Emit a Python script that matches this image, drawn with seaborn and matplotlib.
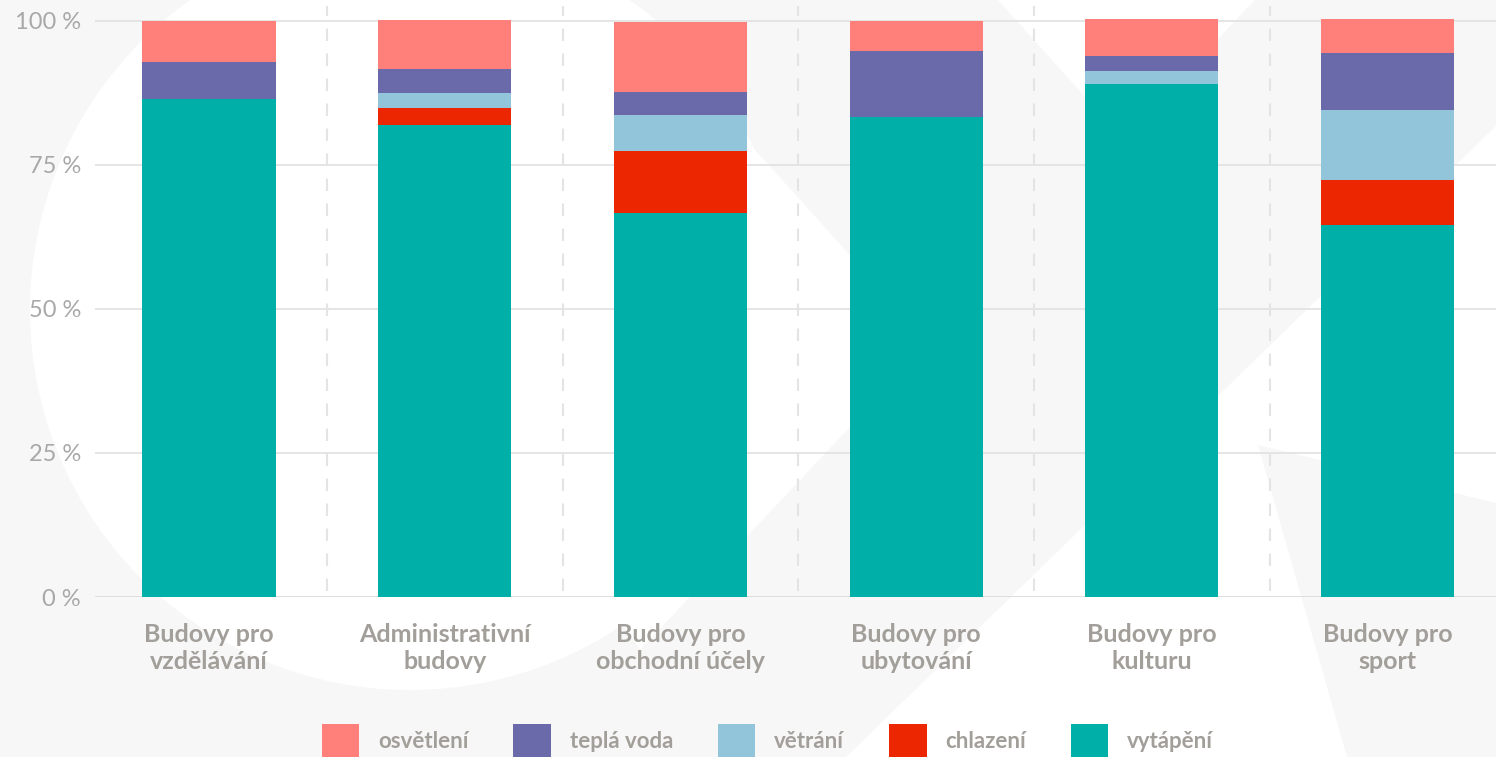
import matplotlib
matplotlib.use("Agg")
import matplotlib.pyplot as plt
from matplotlib.patches import Circle, Polygon, Patch
import seaborn as sns

CATEGORIES = ["Budovy pro\nvzdělávání", "Administrativní\nbudovy", "Budovy pro\nobchodní účely",
              "Budovy pro\nubytování", "Budovy pro\nkulturu", "Budovy pro\nsport"]

# shares in %, bottom -> top of each stack
vytapeni = [86.5, 81.9, 66.6, 83.3, 89.1, 64.6]
chlazeni = [0.0, 3.0, 10.8, 0.0, 0.0, 7.8]
vetrani = [0.0, 2.6, 6.3, 0.0, 2.2, 12.1]
tepla_voda = [6.4, 4.2, 4.0, 11.5, 2.6, 9.9]
osvetleni = [7.1, 8.5, 12.1, 5.2, 6.4, 5.9]

SERIES = ["vytápění", "chlazení", "větrání", "teplá voda", "osvětlení"]
COLORS = ["#00AFA7", "#EB2601", "#92C4DA", "#6A6AAA", "#FF7F7A"]

Y_TICKS = [0, 25, 50, 75, 100]
Y_LABELS = ["0 %", "25 %", "50 %", "75 %", "100 %"]

GRAY_TXT = "#A29E99"
BG_GRAY = "#F7F7F7"


def main() -> None:
    sns.set_style("white")
    plt.rcParams["font.family"] = ["Lato", "DejaVu Sans"]

    fig = plt.figure(figsize=(14.96, 7.57), dpi=100)
    fig.patch.set_facecolor(BG_GRAY)

    # faint watermark logo in the background (pixel coords of the canvas)
    bg = fig.add_axes([0, 0, 1, 1], zorder=-10)
    bg.set_xlim(0, 1496)
    bg.set_ylim(757, 0)
    bg.axis("off")
    bg.add_patch(Circle((410, 310), 380, color="white", lw=0))
    bg.add_patch(Polygon([(620, 0), (929, 343), (640, 650), (410, 310)], color="white", lw=0))
    bg.add_patch(Polygon([(998, 0), (1255, 0), (1123, 139)], color="white", lw=0))
    bg.add_patch(Polygon([(1496, 126), (1496, 757), (846, 757)], color="white", lw=0))
    bg.add_patch(Polygon([(1258, 445), (1496, 503), (1496, 757), (1347, 757)], color=BG_GRAY, lw=0))

    ax = fig.add_axes([95 / 1496, 1 - 597 / 757, 1 - 95 / 1496, (597 - 6) / 757])
    ax.set_facecolor("none")

    # stacked bars: draw cumulative totals, tallest first
    layers = [vytapeni, chlazeni, vetrani, tepla_voda, osvetleni]
    cum = []
    running = [0.0] * len(CATEGORIES)
    for vals in layers:
        running = [r + v for r, v in zip(running, vals)]
        cum.append(running)
    for vals, color in reversed(list(zip(cum, COLORS))):
        sns.barplot(x=CATEGORIES, y=vals, color=color, saturation=1, width=0.565,
                    linewidth=0, ax=ax, zorder=3)

    ax.set_xlim(-0.484, 5.46)
    ax.set_ylim(0, 102.6)

    # grid and separators
    for y in Y_TICKS[1:]:
        ax.axhline(y, color="#E3E3E3", lw=1.3, zorder=1)
    ax.axhline(0, color="#DCDCDC", lw=2, zorder=2)
    for i in range(len(CATEGORIES) - 1):
        ax.axvline(i + 0.5, ymin=0.01, ymax=1, color="#E4E4E4", lw=1.5,
                   ls=(0, (6, 6)), zorder=1)

    ax.set_yticks(Y_TICKS)
    ax.set_yticklabels(Y_LABELS, fontsize=17, fontweight="normal", color="#A8A8A8")
    ax.tick_params(axis="y", length=0, pad=10)
    ax.tick_params(axis="x", length=0, pad=19)
    for lbl in ax.get_xticklabels():
        lbl.set_fontsize(18)
        lbl.set_fontweight("bold")
        lbl.set_color(GRAY_TXT)
        lbl.set_linespacing(1.2)
    ax.set_xlabel("")
    ax.set_ylabel("")
    sns.despine(ax=ax, left=True, bottom=True, top=True, right=True)

    # legend, ordered top of stack first
    handles = [Patch(facecolor=c, edgecolor="none", label=s)
               for s, c in reversed(list(zip(SERIES, COLORS)))]
    leg = fig.legend(handles=handles, loc="center", bbox_to_anchor=(0.513, 1 - 741 / 757),
                     ncol=5, frameon=False, fontsize=16, handlelength=1.7, handleheight=2.0,
                     handletextpad=0.85, columnspacing=2.0, borderpad=0)
    for t in leg.get_texts():
        t.set_color(GRAY_TXT)
        t.set_fontweight("bold")

    fig.savefig("out.png", dpi=100, facecolor=fig.get_facecolor())
    plt.close(fig)


if __name__ == "__main__":
    main()
